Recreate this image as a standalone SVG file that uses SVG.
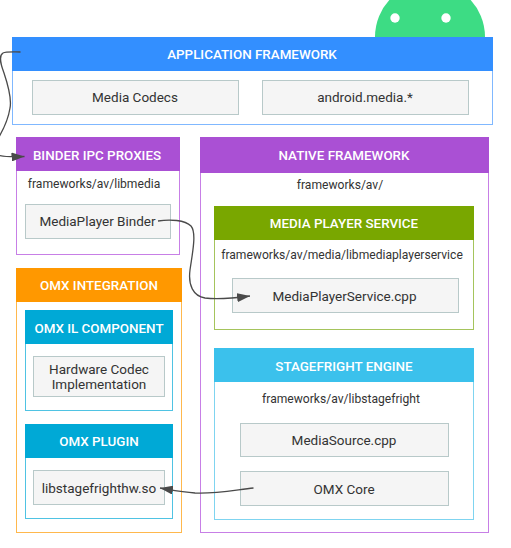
<svg xmlns="http://www.w3.org/2000/svg" width="511" height="548" viewBox="0 0 511 548">
<style>
text{font-family:Roboto,"Liberation Sans",sans-serif;text-anchor:middle}
.t{font-size:13.400px;font-weight:500;fill:#fff}
.l{font-size:13.500px;fill:#333}
.p{font-size:12.100px;fill:#333}
.b{fill:#f5f5f5;stroke:#b8c9c9;stroke-width:1}
.f{fill:#fff;stroke-width:1}
.c{fill:none;stroke:#4a4a4a;stroke-width:1.300}
</style>
<defs><marker id="a" markerUnits="userSpaceOnUse" markerWidth="14" markerHeight="9" refX="13" refY="4.500" orient="auto"><path d="M0 0L13 4.500L0 9z" fill="#4a4a4a"/></marker></defs>
<g id="android"><circle cx="430" cy="37" r="55" fill="#3ddc84"/><circle cx="395" cy="18" r="4.700" fill="#fff"/><circle cx="446" cy="18" r="4.700" fill="#fff"/></g>
<g id="application-framework"><rect class="f" x="12.500" y="37.500" width="480" height="87" stroke="#80b8ff"/><rect x="12" y="37" width="481" height="34" fill="#338fff"/><text class="t" x="252" y="59">APPLICATION FRAMEWORK</text></g>
<g id="media-codecs"><rect class="b" x="32.500" y="80.500" width="206" height="34"/><text class="l" x="135" y="102">Media Codecs</text></g>
<g id="android-media"><rect class="b" x="262.500" y="80.500" width="206" height="34"/><text class="l" x="365" y="102">android.media.*</text></g>
<g id="binder-ipc-proxies"><rect class="f" x="16.500" y="137.500" width="163" height="117" stroke="#c77fe6"/><rect x="16" y="137" width="164" height="34" fill="#aa50d4"/><text class="t" x="97" y="160">BINDER IPC PROXIES</text><text class="p" x="94" y="188">frameworks/av/libmedia</text></g>
<g id="mediaplayer-binder"><rect class="b" x="25.500" y="204.500" width="145" height="34"/><text class="l" x="97.500" y="226">MediaPlayer Binder</text></g>
<g id="native-framework"><rect class="f" x="200.500" y="137.500" width="288" height="395" stroke="#c77fe6"/><rect x="200" y="137" width="289" height="36" fill="#aa50d4"/><text class="t" x="344" y="160">NATIVE FRAMEWORK</text><text class="p" x="340" y="189">frameworks/av/</text></g>
<g id="media-player-service"><rect class="f" x="214.500" y="206.500" width="259" height="123" stroke="#a5c45c"/><rect x="214" y="206" width="260" height="34" fill="#79a700"/><text class="t" x="344" y="228">MEDIA PLAYER SERVICE</text><text class="p" x="342" y="259">frameworks/av/media/libmediaplayerservice</text></g>
<g id="mediaplayerservice-cpp"><rect class="b" x="232.500" y="278.500" width="226" height="34"/><text class="l" x="344.500" y="301">MediaPlayerService.cpp</text></g>
<g id="stagefright-engine"><rect class="f" x="214.500" y="348.500" width="259" height="171" stroke="#7fd4f0"/><rect x="214" y="348" width="260" height="34" fill="#3bc1ec"/><text class="t" x="344" y="371">STAGEFRIGHT ENGINE</text><text class="p" x="341" y="403">frameworks/av/libstagefright</text></g>
<g id="mediasource-cpp"><rect class="b" x="240.500" y="423.500" width="208" height="33"/><text class="l" x="344" y="445">MediaSource.cpp</text></g>
<g id="omx-core"><rect class="b" x="240.500" y="471.500" width="208" height="34"/><text class="l" x="344" y="494">OMX Core</text></g>
<g id="omx-integration"><rect class="f" x="16.500" y="268.500" width="165" height="264" stroke="#ffb84d"/><rect x="16" y="268" width="166" height="34" fill="#ff9800"/><text class="t" x="99" y="290">OMX INTEGRATION</text></g>
<g id="omx-il-component"><rect class="f" x="25.500" y="310.500" width="147" height="100" stroke="#4fc3e3"/><rect x="25" y="310" width="148" height="34" fill="#00a9d6"/><text class="t" x="99" y="333">OMX IL COMPONENT</text></g>
<g id="hardware-codec"><rect class="b" x="33.500" y="356.500" width="131" height="40"/><text class="l" x="99" y="374">Hardware Codec</text><text class="l" x="99" y="389">Implementation</text></g>
<g id="omx-plugin"><rect class="f" x="25.500" y="424.500" width="147" height="94" stroke="#4fc3e3"/><rect x="25" y="424" width="148" height="34" fill="#00a9d6"/><text class="t" x="99" y="446">OMX PLUGIN</text></g>
<g id="libstagefrighthw"><rect class="b" x="33.500" y="470.500" width="131" height="34"/><text class="l" x="99" y="493">libstagefrighthw.so</text></g>
<g id="connectors">
<path class="c" d="M20.500 52C12 52 6 51.500 3 53C-2 56 1 65 4 73C8 85 12 98 10 108C8.500 118 3 130 -1 137"/>
<path class="c" marker-end="url(#a)" d="M-2 155C4 157 12 157 24.500 156.500"/>
<path class="c" marker-end="url(#a)" d="M158 221C170 219 185 220 191 226C197 233 192 255 190 270C188 285 193 296 205 298C220 300 235 298 250 296"/>
<path class="c" marker-end="url(#a)" d="M253.500 488C235 490 215 494 195 493C182 492 172 490 160 488"/>
</g>
</svg>
